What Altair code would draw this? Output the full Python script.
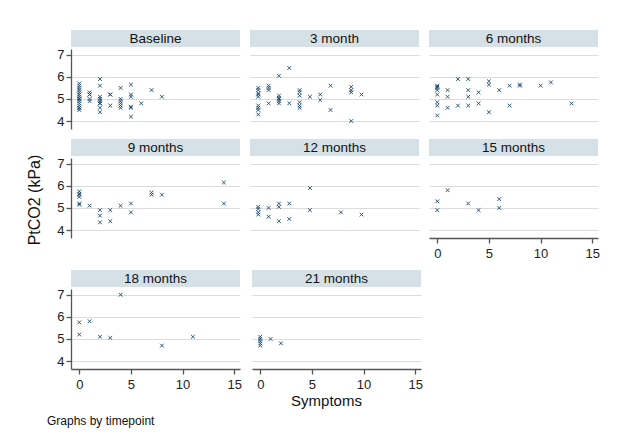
import altair as alt
import pandas as pd

FONT = "Liberation Sans"
NAVY = "#1a476f"
HDR = "#d6e1e7"
GRID = "#dcdcdc"
AX = "#555555"
W = 169
PH = 80
XDOM = [-0.8, 15.56]
YDOM = [3.64, 7.26]
XPATH = "M-1,-1L1,1M-1,1L1,-1"

# ---- data ----
timepoints = ["Baseline", "3 month", "6 months", "9 months",
              "12 months", "15 months", "18 months", "21 months"]

sym_baseline = [0, 0, 0, 0, 0, 0, 0, 0, 0, 0, 0, 0, 0, 0, 0, 0,
                1, 1, 1, 1, 1,
                2, 2, 2, 2, 2, 2, 2, 2, 2,
                3, 3, 3,
                4, 4, 4, 4, 4, 4,
                5, 5, 5, 5, 5, 5,
                6, 7, 8]
pt_baseline = [5.7, 5.6, 5.5, 5.4, 5.3, 5.2, 5.2, 5.1, 5.0, 5.0, 4.9, 4.8, 4.7, 4.6, 4.6, 4.5,
               5.3, 5.2, 5.2, 5.0, 4.9,
               5.9, 5.6, 5.1, 5.0, 4.9, 4.8, 4.8, 4.6, 4.4,
               5.2, 5.2, 4.7,
               5.5, 5.0, 4.9, 4.8, 4.7, 4.6,
               5.65, 5.2, 5.1, 4.65, 4.6, 4.2,
               4.8, 5.4, 5.1]

sym_3m = [0, 0, 0, 0, 0, 0, 0, 0, 0,
          1, 1, 1, 1,
          2, 2, 2, 2, 2, 2,
          3, 3,
          4, 4, 4, 4, 4, 4,
          5, 6, 6, 7, 7,
          9, 9, 9, 9, 10]
pt_3m = [5.5, 5.4, 5.25, 5.2, 5.1, 4.7, 4.6, 4.5, 4.3,
         5.6, 5.5, 5.4, 4.8,
         6.05, 5.15, 5.05, 5.0, 4.9, 4.8,
         6.4, 4.8,
         5.4, 5.3, 5.15, 4.85, 4.7, 4.6,
         5.1, 5.2, 4.95, 5.6, 4.5,
         5.55, 5.4, 5.3, 4.0, 5.2]

sym_6m = [0, 0, 0, 0, 0, 0, 0, 0,
          1, 1, 1,
          2, 2,
          3, 3, 3, 3,
          4, 4,
          5, 5, 5,
          6, 7, 7, 8, 8, 10, 11, 13]
pt_6m = [5.6, 5.55, 5.5, 5.4, 5.2, 4.85, 4.7, 4.25,
         5.4, 5.1, 4.6,
         5.9, 4.7,
         5.9, 5.4, 5.1, 4.7,
         5.3, 4.8,
         5.8, 5.65, 4.4,
         5.4, 5.6, 4.7, 5.65, 5.6, 5.6, 5.75, 4.8]

sym_9m = [0, 0, 0, 0, 0, 0, 1, 2, 2, 2, 3, 3, 4, 5, 5, 7, 7, 8, 14, 14]
pt_9m = [5.75, 5.65, 5.6, 5.5, 5.2, 5.15, 5.1, 4.9, 4.65, 4.35, 4.9, 4.4,
         5.1, 5.2, 4.8, 5.7, 5.6, 5.6, 6.15, 5.2]

sym_12m = [0, 0, 0, 0, 1, 1, 2, 2, 2, 3, 3, 5, 5, 8, 10]
pt_12m = [5.05, 4.95, 4.8, 4.7, 5.0, 4.6, 5.2, 5.05, 4.4, 5.2, 4.5, 5.9, 4.9, 4.8, 4.7]

sym_15m = [0, 0, 1, 3, 4, 6, 6]
pt_15m = [5.3, 4.9, 5.8, 5.2, 4.9, 5.4, 5.0]

sym_18m = [0, 0, 1, 2, 3, 4, 8, 11]
pt_18m = [5.75, 5.2, 5.8, 5.1, 5.05, 7.0, 4.7, 5.1]

sym_21m = [0, 0, 0, 0, 0, 1, 2]
pt_21m = [5.1, 5.0, 4.9, 4.8, 4.7, 5.0, 4.8]

y_ticks = [4, 5, 6, 7]
x_ticks = [0, 5, 10, 15]


def panel(name, xs, ys, first_col, bottom, xtitle=False):
    d = pd.DataFrame({"Symptoms": xs, "PtCO2": ys})
    yax = alt.Axis(values=y_ticks, title=None, grid=True, gridColor=GRID, gridWidth=1.2,
                   labels=first_col, ticks=first_col, domain=first_col,
                   tickSize=5, labelPadding=2)
    if bottom:
        if xtitle:
            xax = alt.Axis(values=x_ticks, grid=False, title="Symptoms", tickSize=5, labelPadding=4,
                           titleX=74, titleY=36, titleAlign="center", titleBaseline="alphabetic",
                           titleFontSize=15, titleFontWeight="normal", titleColor="#111")
        else:
            xax = alt.Axis(values=x_ticks, grid=False, title=None, tickSize=5, labelPadding=4)
    else:
        xax = None
    pts = alt.Chart(d).mark_point(shape=XPATH, size=14, filled=False, strokeWidth=0.9,
                                  color=NAVY, opacity=1).encode(
        x=alt.X("Symptoms:Q", scale=alt.Scale(domain=XDOM, nice=False, zero=False), axis=xax),
        y=alt.Y("PtCO2:Q", scale=alt.Scale(domain=YDOM, nice=False, zero=False), axis=yax),
    )
    hd = pd.DataFrame({"t": [name]})
    rect = alt.Chart(hd).mark_rect(color=HDR).encode(
        x=alt.value(0), x2=alt.value(W), y=alt.value(-19), y2=alt.value(-2))
    txt = alt.Chart(hd).mark_text(font=FONT, fontSize=13.5, color="#111").encode(
        x=alt.value(W / 2), y=alt.value(-10.5), text="t:N")
    return alt.layer(rect, txt, pts).properties(width=W, height=PH)


row1 = alt.hconcat(
    panel(timepoints[0], sym_baseline, pt_baseline, True, False),
    panel(timepoints[1], sym_3m, pt_3m, False, False),
    panel(timepoints[2], sym_6m, pt_6m, False, False),
    spacing=10)
row2 = alt.hconcat(
    panel(timepoints[3], sym_9m, pt_9m, True, False),
    panel(timepoints[4], sym_12m, pt_12m, False, False),
    panel(timepoints[5], sym_15m, pt_15m, False, True),
    spacing=10)
row3 = alt.hconcat(
    panel(timepoints[6], sym_18m, pt_18m, True, True),
    panel(timepoints[7], sym_21m, pt_21m, False, True, xtitle=True),
    spacing=10)
grid = alt.vconcat(row1, row2, row3, spacing=10)

ytitle = alt.Chart(pd.DataFrame({"t": ["PtCO2 (kPa)"]})).mark_text(
    angle=270, font=FONT, fontSize=16, color="#111").encode(
    text="t:N", x=alt.value(8), y=alt.value(151)).properties(width=16, height=320)

chart = alt.hconcat(ytitle, grid, spacing=13).properties(
    title=alt.TitleParams("Graphs by timepoint", orient="bottom", anchor="start",
                          fontSize=12, font=FONT, fontWeight="normal", color="#111",
                          dx=20, offset=8),
    padding={"left": 19, "top": 22, "right": 5, "bottom": 5},
    background="white",
).configure_view(stroke=None).configure_axis(
    labelFont=FONT, titleFont=FONT, labelFontSize=13, labelColor="#222",
    domainColor=AX, tickColor=AX, domainWidth=1.3, tickWidth=1.3,
)

chart.save("out.html", embed_options={"renderer": "svg", "actions": False})
